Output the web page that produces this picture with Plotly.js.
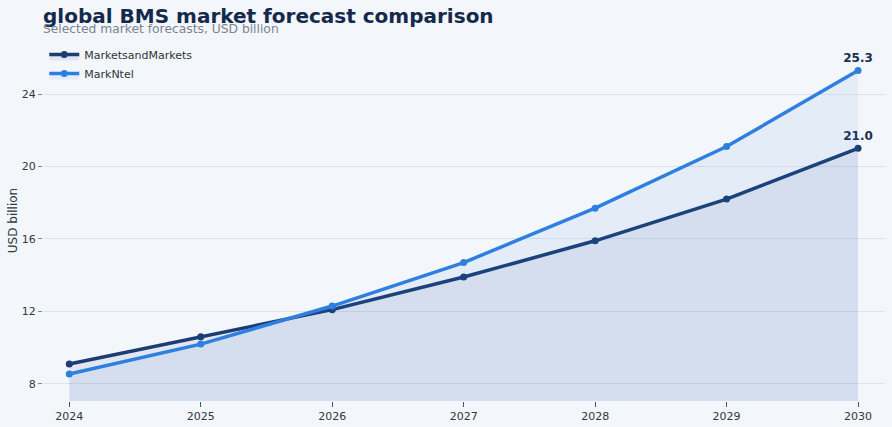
<!DOCTYPE html>
<html>
<head>
<meta charset="utf-8">
<script src="https://cdn.plot.ly/plotly-3.0.1.min.js"></script>
<style>
  html, body { margin: 0; padding: 0; background: #f3f6fa; }
  #chart { width: 892px; height: 427px; }
</style>
</head>
<body>
<div id="chart"></div>
<script>
const years = [2024, 2025, 2026, 2027, 2028, 2029, 2030];
const marketsAndMarkets = [9.1, 10.6, 12.1, 13.9, 15.9, 18.2, 21.0];
const markNtel = [8.55, 10.2, 12.3, 14.7, 17.7, 21.1, 25.3];
const mamLabels = ['', '', '', '', '', '', '21.0'];
const mntLabels = ['', '', '', '', '', '', '25.3'];
const yTicks = [8, 12, 16, 20, 24];

const NAVY = '#1b3d74';
const BLUE = '#2f7fe0';

const traces = [
  {
    name: 'MarketsandMarkets',
    x: years,
    y: marketsAndMarkets,
    text: mamLabels,
    mode: 'lines+markers+text',
    textposition: 'top center',
    textfont: { family: 'DejaVu Sans', size: 12, color: '#1b2f52', weight: 'bold' },
    line: { color: NAVY, width: 3.5 },
    marker: { color: NAVY, size: 7 },
    fill: 'tozeroy',
    fillcolor: 'rgba(27,61,116,0.08)',
    cliponaxis: false,
  },
  {
    name: 'MarkNtel',
    x: years,
    y: markNtel,
    text: mntLabels,
    mode: 'lines+markers+text',
    textposition: 'top center',
    textfont: { family: 'DejaVu Sans', size: 12, color: '#1b2f52', weight: 'bold' },
    line: { color: BLUE, width: 3.5 },
    marker: { color: BLUE, size: 7 },
    fill: 'tozeroy',
    fillcolor: 'rgba(47,127,224,0.08)',
    cliponaxis: false,
  },
];

const layout = {
  width: 892,
  height: 427,
  paper_bgcolor: '#f3f6fa',
  plot_bgcolor: '#f3f6fa',
  font: { family: 'DejaVu Sans', size: 11, color: '#3a3f4a' },
  margin: { l: 43, r: 7, t: 40, b: 26 },
  title: {
    text: '<b>global BMS market forecast comparison</b>',
    x: 43 / 892,
    xanchor: 'left',
    xref: 'container',
    y: 0.98,
    yanchor: 'top',
    yref: 'container',
    font: { family: 'DejaVu Sans', size: 20, color: '#14294b' },
  },
  annotations: [
    {
      // subtitle
      text: 'Selected market forecasts, USD billion',
      xref: 'paper',
      yref: 'paper',
      x: 0,
      xshift: -2,
      y: 1.03,
      xanchor: 'left',
      yanchor: 'middle',
      showarrow: false,
      font: { family: 'DejaVu Sans', size: 12.3, color: '#7b8494' },
    },
  ],
  showlegend: true,
  legend: {
    x: 0.0015,
    xanchor: 'left',
    y: 1,
    yanchor: 'top',
    bgcolor: 'rgba(0,0,0,0)',
    font: { family: 'DejaVu Sans', size: 11, color: '#2d3440' },
  },
  xaxis: {
    range: [2023.8, 2030.205],
    tickvals: years,
    ticks: 'outside',
    ticklen: 5,
    tickcolor: '#555',
    showgrid: false,
    zeroline: false,
    tickfont: { size: 11, color: '#33373f' },
  },
  yaxis: {
    range: [7.06, 26.98],
    tickvals: yTicks,
    ticks: 'outside',
    ticklen: 4,
    tickcolor: '#888',
    gridcolor: '#dde3ec',
    zeroline: false,
    tickfont: { size: 11, color: '#33373f' },
    title: { text: 'USD billion', font: { size: 12, color: '#33373f' }, standoff: 1 },
  },
};

Plotly.newPlot('chart', traces, layout, { displayModeBar: false, staticPlot: true });
</script>
</body>
</html>
